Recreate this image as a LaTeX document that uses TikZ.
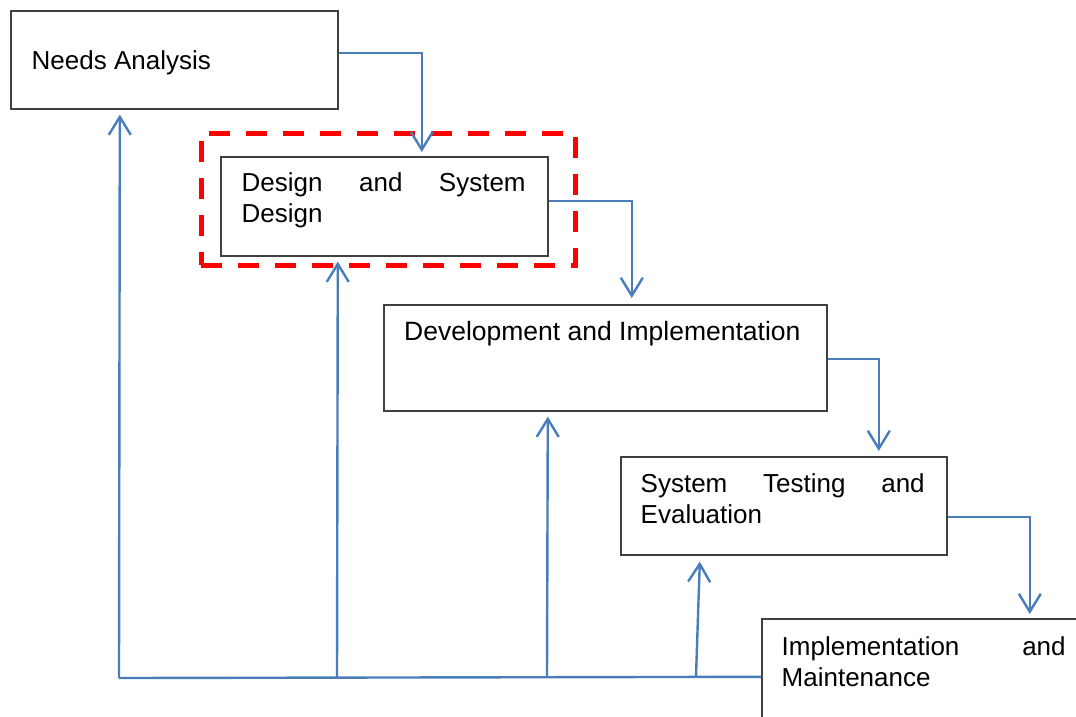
\documentclass[tikz,border=0pt]{standalone}
\usepackage{fontspec}
\setmainfont{Liberation Sans}
\usetikzlibrary{arrows.meta,calc}
\definecolor{flowblue}{HTML}{4A7EBB}
\begin{document}
\begin{tikzpicture}[x=1pt,y=-1pt,
  box/.style={draw=black!75, line width=1.6pt, rectangle, anchor=north west, inner sep=0pt},
  txt/.style={anchor=base west, inner sep=0pt, font=\fontsize{26}{31}\selectfont},
  jtxt/.style={txt, text width=284pt, align=left},
  flow/.style={draw=flowblue, line width=2.4pt, -{Straight Barb[length=18pt,width=22pt]}},
  link/.style={draw=flowblue, line width=2.4pt},
  hl/.style={draw=red, line width=4.5pt, dash pattern=on 21pt off 16pt, rectangle, anchor=north west, inner sep=0pt}]
\useasboundingbox (0,0) rectangle (1076,716);
\fill[white] (0,0) rectangle (1076,716);

% highlight
\node[hl, minimum width=374pt, minimum height=132pt] (hlbox) at (199,131) {};

% boxes
\node[box, minimum width=327pt, minimum height=98pt]  (na)  at (10,10)   {};
\node[box, minimum width=327pt, minimum height=99pt]  (ds)  at (220,156) {};
\node[box, minimum width=443pt, minimum height=106pt] (dev) at (383,304) {};
\node[box, minimum width=326pt, minimum height=98pt]  (st)  at (620,456) {};
\node[box, minimum width=326pt, minimum height=120pt] (im)  at (761,618) {};

% texts
\node[txt]  (tna)  at (31.5,69.5) {Needs Analysis};
\node[jtxt] (tds)  at (241.5,191) {\hbox to 284pt{Design\hfill and\hfill System}\\Design};
\node[txt, font=\fontsize{26.5}{31}\selectfont]  (tdev) at (404,340) {Development and Implementation};
\node[jtxt] (tst)  at (640.5,492) {\hbox to 284pt{System\hfill Testing\hfill and}\\Evaluation};
\node[jtxt] (tim)  at (781.5,655) {\hbox to 284pt{Implementation\hfill and}\\Maintenance};

% forward flow
\draw[flow] ($(na.east)+(0,-7)$)    -| ($(ds.north)+(37.5,-4)$);
\draw[flow] ($(ds.east)+(0,-5.5)$)  -| ($(dev.north)+(26.5,-6)$);
\draw[flow] ($(dev.east)+(0,1)$)    -| ($(st.north)+(95,-5)$);
\draw[flow] ($(st.east)+(0,11)$)    -| ($(im.north)+(105,-4)$);

% feedback
\coordinate (f0) at (119,678);
\coordinate (f1) at (337,677.5);
\coordinate (f2) at (547,677);
\coordinate (f3) at (696,676.5);
\draw[link] ($(im.west)+(0,-2)$) -- (f0);
\draw[flow] (f0) -- ($(na.south)+(-54.5,5)$);
\draw[flow] (f1) -- ($(ds.south)+(-46.5,5)$);
\draw[flow] (f2) -- ($(dev.south)+(-57.5,5)$);
\draw[flow] (f3) -- ($(st.south)+(-84,6)$);
\end{tikzpicture}
\end{document}
